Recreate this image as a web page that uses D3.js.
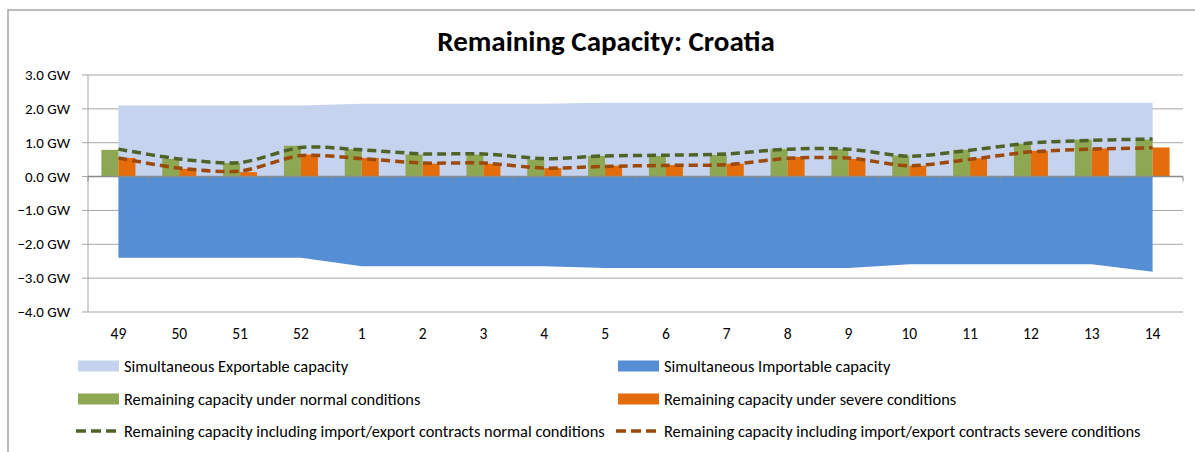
<!DOCTYPE html>
<html>
<head>
<meta charset="utf-8">
<script src="https://cdn.jsdelivr.net/npm/d3@7"></script>
<style>
  body { margin: 0; background: #fff; }
  svg { display: block; font-family: Calibri, Carlito, "Liberation Sans", Arial, sans-serif; }
</style>
</head>
<body>
<svg id="chart" width="1195" height="452"></svg>
<script>
// Data
const weeks = ["49", "50", "51", "52", "1", "2", "3", "4", "5", "6", "7", "8", "9", "10", "11", "12", "13", "14"];
const exportable = [2.10, 2.10, 2.10, 2.10, 2.15, 2.15, 2.15, 2.15, 2.18, 2.18, 2.18, 2.18, 2.18, 2.18, 2.18, 2.18, 2.18, 2.18];
const importable = [-2.40, -2.40, -2.40, -2.40, -2.65, -2.65, -2.65, -2.65, -2.70, -2.70, -2.70, -2.70, -2.70, -2.59, -2.59, -2.59, -2.59, -2.81];
const normalBars = [0.79, 0.52, 0.40, 0.91, 0.81, 0.65, 0.65, 0.50, 0.61, 0.61, 0.64, 0.81, 0.81, 0.62, 0.79, 0.97, 1.09, 1.09];
const severeBars = [0.55, 0.23, 0.13, 0.65, 0.55, 0.38, 0.38, 0.25, 0.32, 0.34, 0.38, 0.58, 0.52, 0.32, 0.54, 0.76, 0.83, 0.86];
const normalLine = [0.81, 0.52, 0.41, 0.86, 0.79, 0.67, 0.67, 0.53, 0.61, 0.63, 0.67, 0.81, 0.81, 0.60, 0.78, 0.99, 1.07, 1.11];
const severeLine = [0.55, 0.25, 0.16, 0.62, 0.53, 0.40, 0.40, 0.25, 0.30, 0.33, 0.35, 0.54, 0.55, 0.32, 0.51, 0.73, 0.81, 0.85];
const yTicks = [3, 2, 1, 0, -1, -2, -3, -4];

// Colours
const cExport = "#c5d3ee", cImport = "#558ed5";
const cNormal = "#8ea752", cSevere = "#e46c0a";
const cNormalLine = "#4f6228", cSevereLine = "#9c4a0b";
const gridColor = "#a6a6a6";

const svg = d3.select("#chart");

// Frame
svg.append("rect")
    .attr("x", 8).attr("y", 10)
    .attr("width", 1200).attr("height", 460)
    .attr("fill", "none")
    .attr("stroke", "#a6a6a6")
    .attr("stroke-width", 1.5);

// Scales
const x = d3.scaleBand().domain(weeks).range([88, 1183]);
const y = d3.scaleLinear().domain([-4, 3]).range([312, 75]);
const cx = d => x(d) + x.bandwidth() / 2;
const barW = 17;

// Gridlines
svg.append("g").selectAll("line")
    .data(yTicks)
    .enter().append("line")
    .attr("x1", 82).attr("x2", 1183)
    .attr("y1", d => y(d)).attr("y2", d => y(d))
    .attr("stroke", gridColor)
    .attr("stroke-width", 1);

// Areas
const area = d3.area()
    .x((d, i) => cx(weeks[i]))
    .y0(y(0))
    .y1(d => y(d));

svg.append("path")
    .datum(exportable)
    .attr("fill", cExport)
    .attr("d", area);

svg.append("path")
    .datum(importable)
    .attr("fill", cImport)
    .attr("d", area);

// Bars
svg.append("g").selectAll("rect")
    .data(normalBars)
    .enter().append("rect")
    .attr("x", (d, i) => cx(weeks[i]) - barW)
    .attr("width", barW)
    .attr("y", d => y(d))
    .attr("height", d => y(0) - y(d))
    .attr("fill", cNormal);

svg.append("g").selectAll("rect")
    .data(severeBars)
    .enter().append("rect")
    .attr("x", (d, i) => cx(weeks[i]))
    .attr("width", barW)
    .attr("y", d => y(d))
    .attr("height", d => y(0) - y(d))
    .attr("fill", cSevere);

// Smoothed dashed lines
const line = d3.line()
    .x((d, i) => cx(weeks[i]))
    .y(d => y(d))
    .curve(d3.curveCardinal.tension(0.2));

svg.append("path")
    .datum(normalLine)
    .attr("fill", "none")
    .attr("stroke", cNormalLine)
    .attr("stroke-width", 3.5)
    .attr("stroke-dasharray", "9,5")
    .attr("d", line);

svg.append("path")
    .datum(severeLine)
    .attr("fill", "none")
    .attr("stroke", cSevereLine)
    .attr("stroke-width", 3.5)
    .attr("stroke-dasharray", "9,5")
    .attr("d", line);

// Axes
svg.append("line")
    .attr("x1", 88).attr("x2", 88)
    .attr("y1", y(3)).attr("y2", y(-4))
    .attr("stroke", gridColor);

svg.append("line")
    .attr("x1", 88).attr("x2", 1183)
    .attr("y1", y(0)).attr("y2", y(0))
    .attr("stroke", "#8c8c8c")
    .attr("stroke-width", 1.5);

svg.append("g").selectAll("line")
    .data(weeks.concat(["end"]))
    .enter().append("line")
    .attr("x1", (d, i) => 88 + i * x.bandwidth())
    .attr("x2", (d, i) => 88 + i * x.bandwidth())
    .attr("y1", y(0)).attr("y2", y(0) + 5)
    .attr("stroke", "#8c8c8c");

svg.append("g").selectAll("text")
    .data(yTicks)
    .enter().append("text")
    .attr("x", 70)
    .attr("y", d => y(d) + 5)
    .attr("text-anchor", "end")
    .style("font-size", "15px")
    .text(d => d3.format(".1f")(d) + " GW");

svg.append("g").selectAll("text")
    .data(weeks)
    .enter().append("text")
    .attr("x", d => cx(d))
    .attr("y", 339)
    .attr("text-anchor", "middle")
    .style("font-size", "15.5px")
    .text(d => d);

// Title
svg.append("text")
    .attr("x", 606)
    .attr("y", 51)
    .attr("text-anchor", "middle")
    .style("font-size", "29px")
    .style("font-weight", "bold")
    .text("Remaining Capacity: Croatia");

// Legend
const legend = [
    {col: 0, row: 0, type: "rect", color: cExport, label: "Simultaneous Exportable capacity"},
    {col: 1, row: 0, type: "rect", color: cImport, label: "Simultaneous Importable capacity"},
    {col: 0, row: 1, type: "rect", color: cNormal, label: "Remaining capacity under normal conditions"},
    {col: 1, row: 1, type: "rect", color: cSevere, label: "Remaining capacity under severe conditions"},
    {col: 0, row: 2, type: "line", color: cNormalLine, label: "Remaining capacity including import/export contracts normal conditions"},
    {col: 1, row: 2, type: "line", color: cSevereLine, label: "Remaining capacity including import/export contracts severe conditions"}
];
const legX = [78, 618];
const legY = [366, 399, 431];

legend.forEach(item => {
    const lx = legX[item.col], ly = legY[item.row];
    if (item.type === "rect") {
        svg.append("rect")
            .attr("x", lx).attr("y", ly - 5.5)
            .attr("width", 41).attr("height", 11)
            .attr("fill", item.color);
    } else {
        svg.append("line")
            .attr("x1", lx - 2).attr("x2", lx + 38)
            .attr("y1", ly).attr("y2", ly)
            .attr("stroke", item.color)
            .attr("stroke-width", 3.5)
            .attr("stroke-dasharray", "10,5");
    }
    svg.append("text")
        .attr("x", lx + 46)
        .attr("y", ly + 5.5)
        .style("font-size", "16.4px")
        .text(item.label);
});
</script>
</body>
</html>
